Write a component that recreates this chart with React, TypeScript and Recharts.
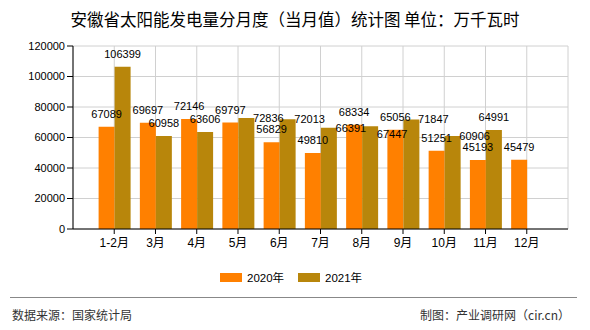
import React from "react";
import {
  BarChart,
  Bar,
  XAxis,
  YAxis,
  CartesianGrid,
  LabelList
} from "recharts";

const months = ["1-2月", "3月", "4月", "5月", "6月", "7月", "8月", "9月", "10月", "11月", "12月"];
const values2020 = [67089, 69697, 72146, 69797, 56829, 49810, 68334, 65056, 51251, 45193, 45479];
const values2021 = [106399, 60958, 63606, 72836, 72013, 66391, 67447, 71847, 60906, 64991, null];
const seriesNames = ["2020年", "2021年"];
const yTicks = [0, 20000, 40000, 60000, 80000, 100000, 120000];

const ORANGE = "#FF8000";
const OLIVE = "#B8860B";
const FONT = "'Liberation Sans', 'Noto Sans CJK SC', sans-serif";
const CJK = "'Noto Sans CJK SC', sans-serif";

// 2021 labels that the original draws beside the bar instead of on top
const sideLabels2021 = new Set([3, 4, 5, 6, 7, 8]);

const data = months.map((m, i) => ({
  month: m,
  v2020: values2020[i],
  v2021: values2021[i]
}));

function topLabel(props: any) {
  const { x, y, width, value } = props;
  if (value == null) return null;
  return (
    <text x={x + width / 2} y={y - 9} textAnchor="middle" fontSize={11} fontFamily={FONT} fill="#000">
      {value}
    </text>
  );
}

function label2021(props: any) {
  const { x, y, width, value, index } = props;
  if (value == null) return null;
  if (!sideLabels2021.has(index)) return topLabel(props);
  const dy = index === 6 ? 8 : 0;
  return (
    <text x={x + width / 2 + 22} y={y + 4 + dy} textAnchor="middle" fontSize={11} fontFamily={FONT} fill="#000">
      {value}
    </text>
  );
}

export default function App() {
  return (
    <div style={{ position: "absolute", left: 0, top: 0, width: 590, height: 330, background: "#fff", overflow: "hidden" }}>
      <div
        style={{
          position: "absolute",
          top: 8,
          left: 0,
          width: 590,
          textAlign: "center",
          fontFamily: CJK,
          fontSize: 16.5,
          lineHeight: "22px",
          color: "#000"
        }}
      >
        安徽省太阳能发电量分月度（当月值）统计图 单位：万千瓦时
      </div>

      <div style={{ position: "absolute", left: 0, top: 0 }}>
        <BarChart
          width={590}
          height={260}
          data={data}
          margin={{ top: 46, right: 22, bottom: 0, left: 0 }}
          barGap={0}
          barSize={16}
        >
          <CartesianGrid
            stroke="#d0d0d0"
            verticalCoordinatesGenerator={({ offset }: any) => {
              const step = offset.width / 12;
              return Array.from({ length: 13 }, (_, i) => offset.left + step * i);
            }}
          />
          <XAxis
            dataKey="month"
            padding={{ left: 20.6, right: 20.6 }}
            height={31}
            interval={0}
            tickSize={5}
            tickMargin={4}
            axisLine={{ stroke: "#000" }}
            tickLine={{ stroke: "#000" }}
            tick={{ fill: "#000", fontSize: 12, fontFamily: FONT }}
          />
          <YAxis
            width={73}
            domain={[0, 120000]}
            ticks={yTicks}
            interval={0}
            axisLine={{ stroke: "#000" }}
            tickLine={{ stroke: "#000" }}
            tick={{ fill: "#000", fontSize: 11, fontFamily: FONT }}
          />
          <Bar dataKey="v2020" name={seriesNames[0]} fill={ORANGE} isAnimationActive={false}>
            <LabelList dataKey="v2020" content={topLabel} />
          </Bar>
          <Bar dataKey="v2021" name={seriesNames[1]} fill={OLIVE} isAnimationActive={false}>
            <LabelList dataKey="v2021" content={label2021} />
          </Bar>
        </BarChart>
      </div>

      {/* legend */}
      {[ORANGE, OLIVE].map((c, i) => (
        <div key={i} style={{ position: "absolute", left: 220 + i * 78, top: 270, height: 14, display: "flex", alignItems: "center" }}>
          <div style={{ width: 22, height: 9, background: c }} />
          <span style={{ marginLeft: 5, fontSize: 11.5, fontFamily: FONT, color: "#000" }}>{seriesNames[i]}</span>
        </div>
      ))}

      <div style={{ position: "absolute", left: 10, top: 297, width: 567, height: 1, background: "#888" }} />
      <div style={{ position: "absolute", left: 12, top: 307, fontSize: 12, fontFamily: CJK, color: "#333", lineHeight: "16px" }}>
        数据来源：国家统计局
      </div>
      <div style={{ position: "absolute", right: 20, top: 307, fontSize: 12, fontFamily: CJK, color: "#333", lineHeight: "16px" }}>
        制图：产业调研网（cir.cn）
      </div>
    </div>
  );
}
